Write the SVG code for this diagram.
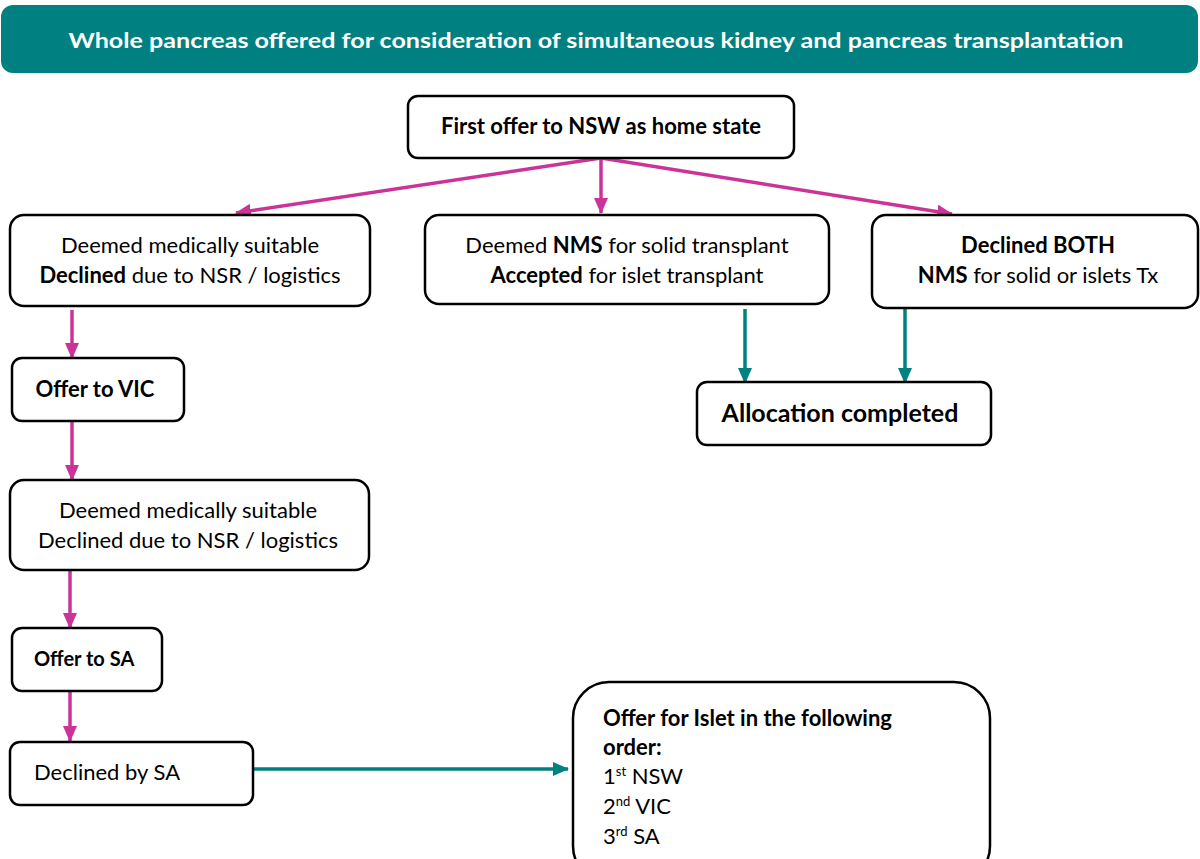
<svg xmlns="http://www.w3.org/2000/svg" width="1200" height="859" viewBox="0 0 1200 859">
<defs>
<style>
.box{fill:#fff;stroke:#000;stroke-width:2.5}
.t{font-family:Lato,"Liberation Sans",sans-serif;font-size:22px;fill:#000}
.b{font-weight:bold}
.m{stroke:#CC3399;stroke-width:3.5;fill:none}
.g{stroke:#008080;stroke-width:3.5;fill:none}
</style>
<marker id="am" markerWidth="16" markerHeight="14" refX="15" refY="7" orient="auto" markerUnits="userSpaceOnUse"><path d="M0,0 L16,7 L0,14 Z" fill="#CC3399"/></marker>
<marker id="ag" markerWidth="16" markerHeight="14" refX="15" refY="7" orient="auto" markerUnits="userSpaceOnUse"><path d="M0,0 L16,7 L0,14 Z" fill="#008080"/></marker>
</defs>
<rect width="1200" height="859" fill="#fff"/>
<g id="title">
<rect x="1" y="5" width="1197" height="68" rx="12" fill="#008080"/>
<text x="596" y="48" text-anchor="middle" class="t b" style="fill:#fff;font-size:21px" textLength="1055" lengthAdjust="spacingAndGlyphs">Whole pancreas offered for consideration of simultaneous kidney and pancreas transplantation</text>
</g>
<g id="connectors">
<line class="m" x1="601" y1="158" x2="236" y2="213" marker-end="url(#am)"/>
<line class="m" x1="601" y1="158" x2="601" y2="213" marker-end="url(#am)"/>
<line class="m" x1="601" y1="158" x2="952" y2="214" marker-end="url(#am)"/>
<line class="m" x1="72" y1="310" x2="72" y2="358" marker-end="url(#am)"/>
<line class="m" x1="72" y1="422" x2="72" y2="480" marker-end="url(#am)"/>
<line class="m" x1="70" y1="571" x2="70" y2="628" marker-end="url(#am)"/>
<line class="m" x1="70" y1="692" x2="70" y2="741" marker-end="url(#am)"/>
<line class="g" x1="745" y1="309" x2="745" y2="383" marker-end="url(#ag)"/>
<line class="g" x1="905" y1="309" x2="905" y2="383" marker-end="url(#ag)"/>
<line class="g" x1="253" y1="769" x2="568" y2="769" marker-end="url(#ag)"/>
</g>
<g id="first-offer">
<rect class="box" x="408" y="96" width="386" height="62" rx="10"/>
<text class="t b" x="601" y="134" text-anchor="middle">First offer to NSW as home state</text>
</g>
<g id="declined-nsr">
<rect class="box" x="10" y="215" width="360" height="91" rx="14"/>
<text class="t" x="190" y="253" text-anchor="middle">Deemed medically suitable</text>
<text class="t" x="190" y="283" text-anchor="middle"><tspan class="b">Declined</tspan> due to NSR / logistics</text>
</g>
<g id="nms-solid">
<rect class="box" x="425" y="215" width="404" height="89" rx="14"/>
<text class="t" x="627" y="253" text-anchor="middle">Deemed <tspan class="b">NMS</tspan> for solid transplant</text>
<text class="t" x="627" y="283" text-anchor="middle"><tspan class="b">Accepted</tspan> for islet transplant</text>
</g>
<g id="declined-both">
<rect class="box" x="872" y="215" width="326" height="93" rx="14"/>
<text class="t b" x="1038" y="253" text-anchor="middle">Declined BOTH</text>
<text class="t" x="1038" y="283" text-anchor="middle"><tspan class="b">NMS</tspan> for solid or islets Tx</text>
</g>
<g id="allocation">
<rect class="box" x="697" y="382" width="294" height="63" rx="10"/>
<text class="t b" x="840" y="422" text-anchor="middle" style="font-size:25px">Allocation completed</text>
</g>
<g id="offer-vic">
<rect class="box" x="12" y="358" width="172" height="63" rx="10"/>
<text class="t b" x="95" y="397" text-anchor="middle">Offer to VIC</text>
</g>
<g id="declined-vic">
<rect class="box" x="10" y="480" width="359" height="90" rx="14"/>
<text class="t" x="188" y="518" text-anchor="middle">Deemed medically suitable</text>
<text class="t" x="188" y="548" text-anchor="middle">Declined due to NSR / logistics</text>
</g>
<g id="offer-sa">
<rect class="box" x="12" y="628" width="150" height="63" rx="10"/>
<text class="t b" x="34" y="666" style="font-size:20px">Offer to SA</text>
</g>
<g id="declined-sa">
<rect class="box" x="10" y="742" width="243" height="63" rx="10"/>
<text class="t" x="34" y="780">Declined by SA</text>
</g>
<g id="islet-offer">
<rect class="box" x="573" y="682" width="417" height="200" rx="36"/>
<text class="t b" x="603" y="726">Offer for Islet in the following</text>
<text class="t b" x="603" y="755">order:</text>
<text class="t" x="603" y="784">1<tspan dy="-8" style="font-size:13px">st</tspan><tspan dy="8"> NSW</tspan></text>
<text class="t" x="603" y="814">2<tspan dy="-8" style="font-size:13px">nd</tspan><tspan dy="8"> VIC</tspan></text>
<text class="t" x="603" y="844">3<tspan dy="-8" style="font-size:13px">rd</tspan><tspan dy="8"> SA</tspan></text>
</g>
</svg>
